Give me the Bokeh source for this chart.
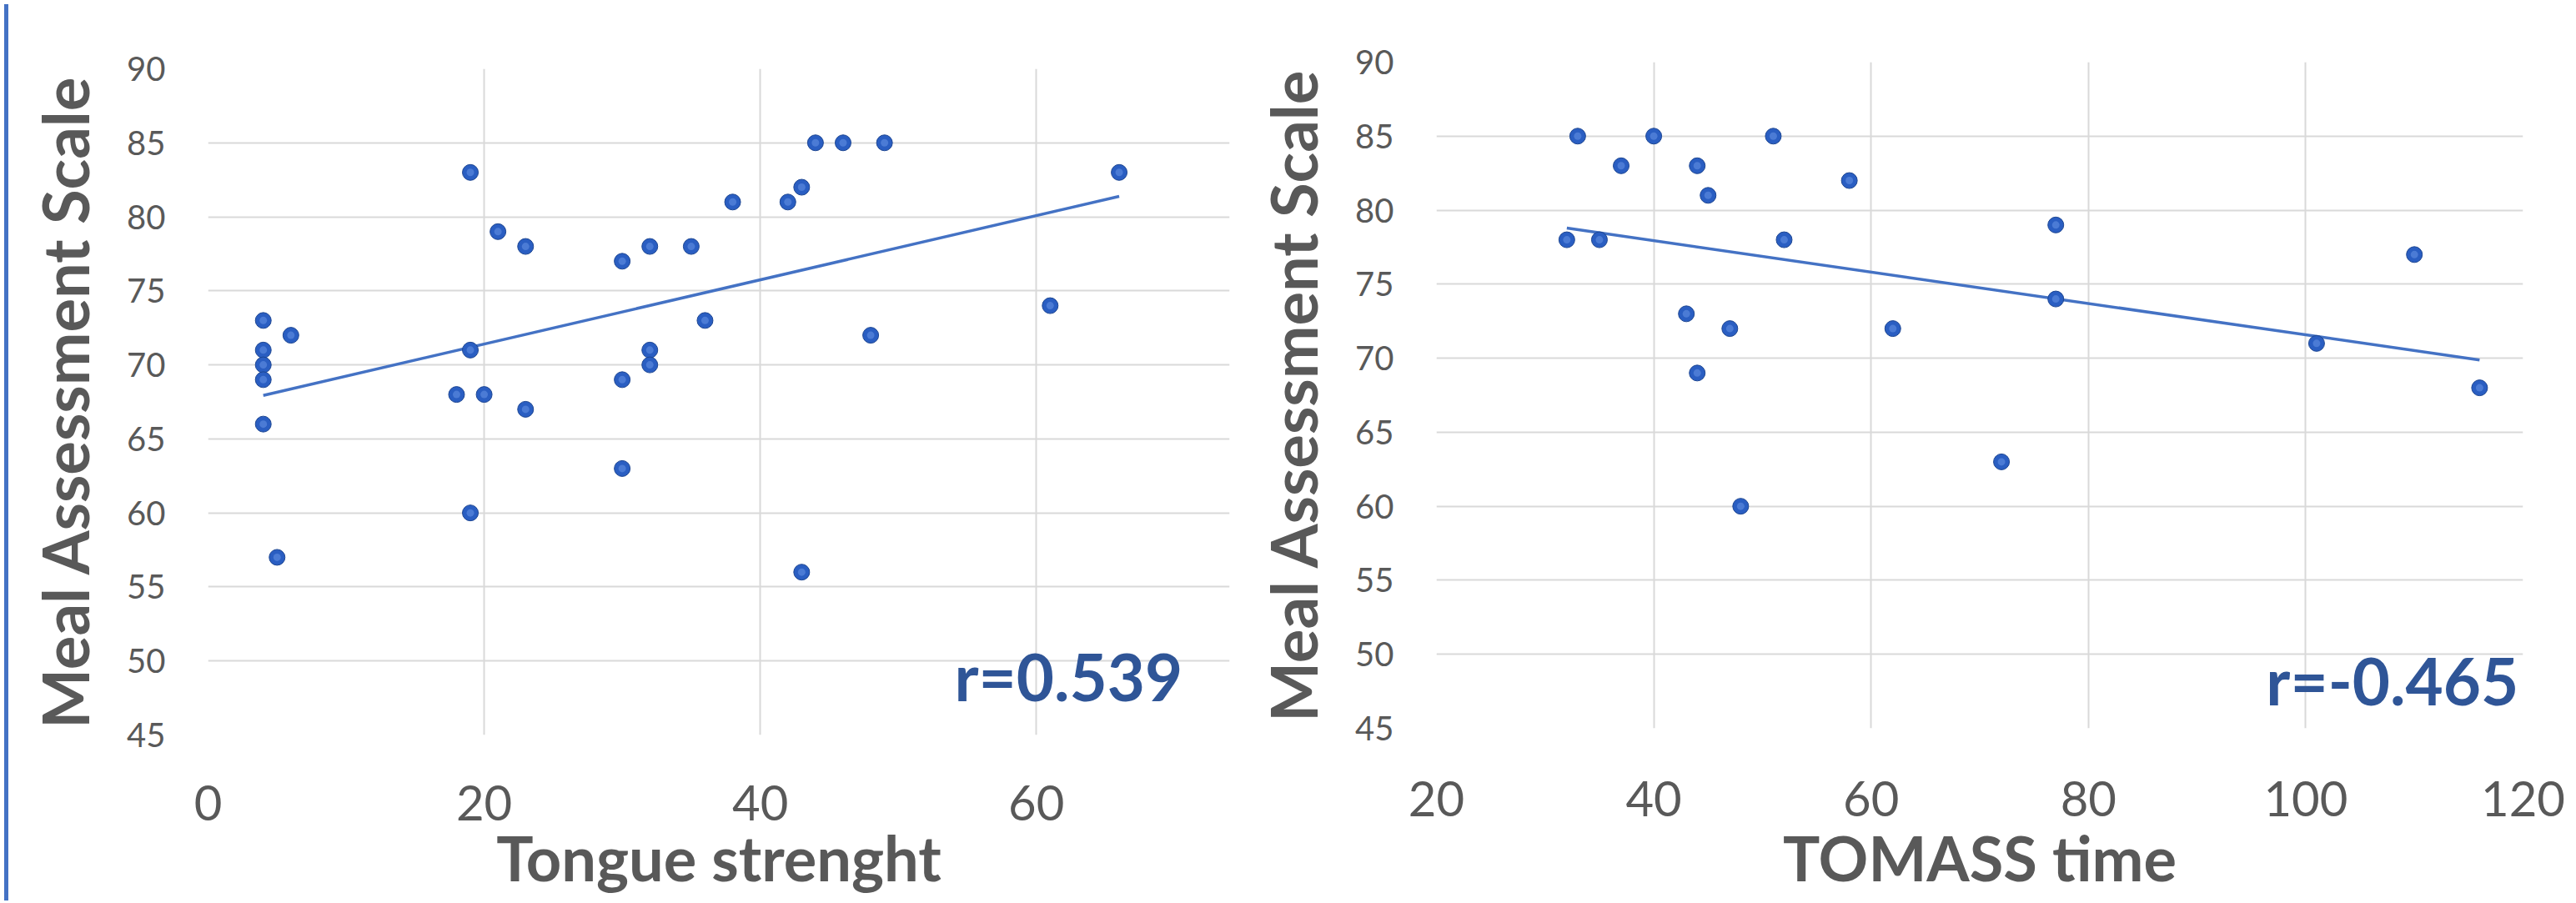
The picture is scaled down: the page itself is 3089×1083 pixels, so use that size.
import numpy as np
from bokeh.plotting import figure
from bokeh.layouts import row, column
from bokeh.models import Div, Label, FixedTicker
from bokeh.embed import file_html
from bokeh.resources import INLINE

# ---- data ----
tongue_strength = [4, 6, 4, 4, 4, 4, 5, 19, 19, 19, 21, 23, 18, 20, 23, 30, 32, 30, 32, 32,
                   30, 35, 36, 38, 42, 43, 44, 46, 49, 48, 61, 66, 43]
mas_tongue = [73, 72, 71, 70, 69, 66, 57, 83, 71, 60, 79, 78, 68, 68, 67, 77, 78, 69, 71, 70,
              63, 78, 73, 81, 81, 82, 85, 85, 85, 72, 74, 83, 56]

tomass_time = [33, 40, 51, 37, 44, 45, 58, 32, 35, 52, 43, 47, 62, 44, 48, 77, 77, 101, 110, 116, 72]
mas_tomass = [85, 85, 85, 83, 83, 81, 82, 78, 78, 78, 73, 72, 72, 69, 60, 79, 74, 71, 77, 68, 63]

y_ticks = [45, 50, 55, 60, 65, 70, 75, 80, 85, 90]
x_ticks_left = [0, 20, 40, 60]
x_ticks_right = [20, 40, 60, 80, 100, 120]
r_left = "r=0.539"
r_right = "r=-0.465"

GRID = "#D9D9D9"
TXT = "#595959"
DOT = "#2A5EC2"
LINE = "#4472C4"
RCOL = "#2F5597"
H = 1075


def make_fig(xs, ys, xr, xticks, xlabel, rtext, rx, ry, width, mbl, mbr, mbt, s1, s2):
    p = figure(width=width, height=H, x_range=xr, y_range=(45, 90),
               output_backend="svg", toolbar_location=None,
               min_border_left=mbl, min_border_right=mbr, min_border_top=mbt,
               min_border_bottom=0)
    p.outline_line_color = None
    p.background_fill_color = "white"
    p.border_fill_color = "white"
    for ax in (p.xaxis[0], p.yaxis[0]):
        ax.axis_line_color = None
        ax.major_tick_line_color = None
        ax.minor_tick_line_color = None
        ax.major_tick_out = 0
        ax.major_tick_in = 0
        ax.minor_tick_out = 0
        ax.minor_tick_in = 0
        ax.major_label_text_color = TXT
        ax.major_label_text_font = "Lato"
        ax.axis_label_text_color = TXT
        ax.axis_label_text_font = "Lato"
        ax.axis_label_text_font_style = "bold"
    p.xaxis.ticker = FixedTicker(ticks=xticks)
    p.yaxis.ticker = FixedTicker(ticks=y_ticks)
    p.xaxis.major_label_text_font_size = "58px"
    p.yaxis.major_label_text_font_size = "40px"
    p.xaxis.major_label_standoff = s1
    p.yaxis.major_label_standoff = 51
    p.xaxis.axis_label = xlabel
    p.yaxis.axis_label = "Meal Assessment Scale"
    p.xaxis.axis_label_text_font_size = "74px"
    p.yaxis.axis_label_text_font_size = "76px"
    p.xaxis.axis_label_standoff = s2
    p.yaxis.axis_label_standoff = 26
    p.xgrid.grid_line_color = GRID
    p.ygrid.grid_line_color = GRID
    p.xgrid.grid_line_width = 2
    p.ygrid.grid_line_width = 2

    # trendline from least-squares fit of the data
    xa = np.array(xs, dtype=float)
    ya = np.array(ys, dtype=float)
    m, b = np.polyfit(xa, ya, 1)
    lx = [xa.min(), xa.max()]
    p.line(lx, [m * v + b for v in lx], line_color=LINE, line_width=3.5)

    p.scatter(xs, ys, size=19, fill_color=DOT, line_color="#1C4591", line_width=1)
    p.scatter(xs, ys, size=9, fill_color="#6C98E8", fill_alpha=0.5, line_color=None)

    p.add_layout(Label(x=rx, y=ry, text=rtext, text_align="right", text_baseline="middle",
                       text_font="Lato", text_font_style="bold", text_font_size="78px",
                       text_color=RCOL))
    return p


p1 = make_fig(tongue_strength, mas_tongue, (0, 74), x_ticks_left, "Tongue strenght",
              r_left, 70.6, 48.95, 1487, 234, 28, 82, 60, -3)
p2 = make_fig(tomass_time, mas_tomass, (20, 120), x_ticks_right, "TOMASS time",
              r_right, 119.6, 48.25, 1581, 215, 58, 74, 63, 2)

bar = Div(width=5, height=H, styles={"background-color": "#4472C4"})
layout = row(bar, column(p1), column(p2))

open("out.html", "w").write(file_html(layout, INLINE))
